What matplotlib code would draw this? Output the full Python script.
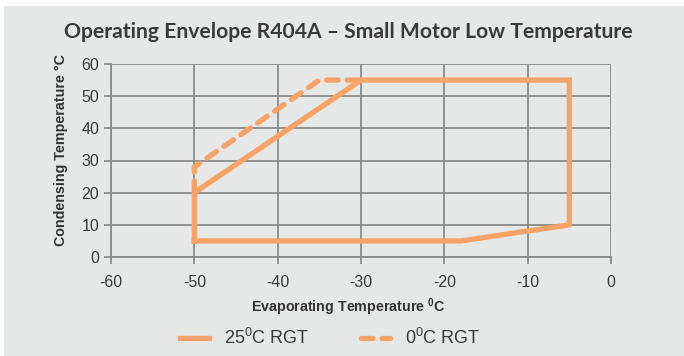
import matplotlib.pyplot as plt
from matplotlib.patches import Rectangle

plt.rcParams["axes.unicode_minus"] = False

# Envelope data (evaporating, condensing temperature in degC)
evap_25 = [-50, -50, -30, -5, -5, -18, -50]
cond_25 = [5, 20, 55, 55, 10, 5, 5]
evap_0 = [-50, -50, -35, -30]
cond_0 = [20, 28, 55, 55]

xticks = [-60, -50, -40, -30, -20, -10, 0]
yticks = [0, 10, 20, 30, 40, 50, 60]

orange = "#f7a266"
bg = "#e6e7e7"
grid_c = "#8a8a8a"

fig = plt.figure(figsize=(6.84, 3.56), dpi=100)
fig.patch.set_facecolor("white")
fig.patches.append(Rectangle((4 / 684, 0), 1, 1 - 6 / 356, transform=fig.transFigure,
                             facecolor=bg, edgecolor="none", zorder=-10))

ax = fig.add_axes([111 / 684, 1 - 257 / 356, 500 / 684, 193 / 356])
ax.set_facecolor(bg)

ax.plot(evap_25, cond_25, color=orange, linewidth=3.8, solid_joinstyle="miter",
        label=r"25$^{\mathregular{0}}$C RGT", zorder=3)
ax.plot(evap_0, cond_0, color=orange, linewidth=3.8, dashes=(2.2, 1.7),
        dash_capstyle="round", label=r"0$^{\mathregular{0}}$C RGT", zorder=3)

ax.set_xlim(-60, 0)
ax.set_ylim(0, 60)
ax.set_xticks(xticks)
ax.set_yticks(yticks)
ax.grid(True, color=grid_c, linewidth=1.3)
ax.set_axisbelow(True)
for s in ["top", "right"]:
    ax.spines[s].set_visible(False)
for s in ["left", "bottom"]:
    ax.spines[s].set_color(grid_c)
    ax.spines[s].set_linewidth(1.3)
ax.tick_params(colors=grid_c, width=1.3, length=5, labelcolor="#3a3a3a",
               labelsize=11.5)
for lab in ax.get_xticklabels() + ax.get_yticklabels():
    lab.set_fontfamily("Liberation Sans")
ax.tick_params(axis="x", pad=8)

ax.set_xlabel(r"Evaporating Temperature $^{\mathregular{0}}$C", fontsize=10.3,
              fontweight="bold", family="Liberation Sans", color="#333333")
ax.xaxis.set_label_coords(0.474, -0.205)
fig.text(61 / 684, 1 - 150 / 356, "Condensing Temperature \u00b0C", rotation=90,
         fontsize=10.3, fontweight="bold", family="Liberation Sans", color="#333333",
         ha="center", va="center")

fig.text(348 / 684, 1 - 32 / 356, "Operating Envelope R404A \u2013 Small Motor Low Temperature",
         fontsize=15.2, fontweight="bold", family="Lato", color="#3a3a3a",
         ha="center", va="center")

leg = fig.legend(loc="center", bbox_to_anchor=(330 / 684, 1 - 338 / 356), ncol=2,
                 frameon=False, handlelength=1.6, columnspacing=2.9,
                 prop={"family": "Liberation Sans", "size": 13})
for t in leg.get_texts():
    t.set_color("#3a3a3a")

plt.savefig("out.png", dpi=100)
